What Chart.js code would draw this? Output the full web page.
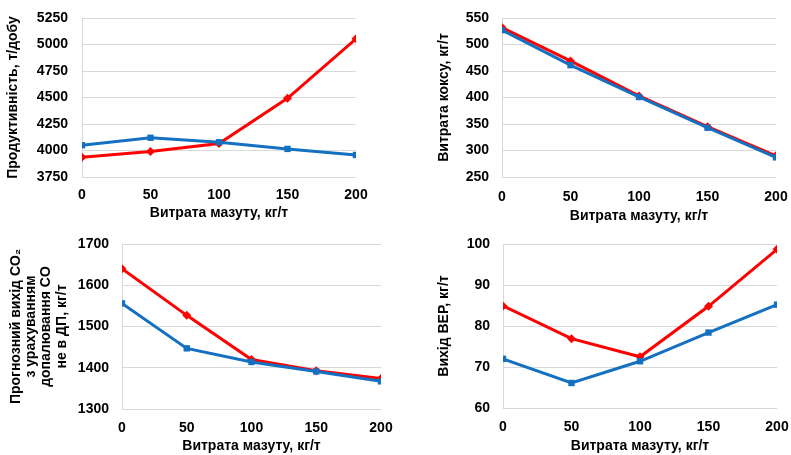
<!DOCTYPE html>
<html>
<head>
<meta charset="utf-8">
<script src="https://cdn.jsdelivr.net/npm/chart.js@4/dist/chart.umd.min.js"></script>
<style>
  html, body { margin: 0; padding: 0; background: #fff; }
  body { width: 791px; height: 455px; position: relative; overflow: hidden; }
  .box { position: absolute; }
</style>
</head>
<body>
<div class="box" style="left:0;top:0;width:395px;height:225px"><canvas id="chartProd"></canvas></div>
<div class="box" style="left:432px;top:0;width:359px;height:225px"><canvas id="chartCoke"></canvas></div>
<div class="box" style="left:0;top:225px;width:395px;height:230px"><canvas id="chartCO2"></canvas></div>
<div class="box" style="left:432px;top:225px;width:359px;height:230px"><canvas id="chartVER"></canvas></div>
<script>
// Fuel oil consumption, kg/t (shared x values)
const fuelOil = [0, 50, 100, 150, 200];

// Productivity, t/day
const prodBlue = [4050, 4120, 4078, 4015, 3958];
const prodRed = [3936, 3990, 4066, 4492, 5054];

// Coke consumption, kg/t
const cokeBlue = [527, 461, 401, 343, 287];
const cokeRed = [532, 469, 403, 345, 290];

// Predicted CO2 output, kg/t
const co2Blue = [1556, 1447, 1414, 1391, 1367];
const co2Red = [1640, 1527, 1420, 1393, 1374];

// Secondary energy resources output, kg/t
const verBlue = [72.0, 66.1, 71.4, 78.4, 85.2];
const verRed = [84.9, 76.9, 72.5, 84.8, 98.7];

const xTitle = 'Витрата мазуту, кг/т';
const BLUE = '#1470C0';
const RED = '#FF0000';
const GRID = '#D9D9D9';

Chart.defaults.font.family = '"Liberation Sans", Arial, sans-serif';
Chart.defaults.font.weight = 'bold';
Chart.defaults.color = '#000';

function toPoints(arr) {
    return fuelOil.map((x, i) => ({ x: x, y: arr[i] }));
}

// plain numbers, no thousands separator
function plain(value) {
    return String(value);
}

function makeChart(id, opts) {
    const ctx = document.getElementById(id);
    return new Chart(ctx, {
        type: 'line',
        data: {
            datasets: [
                {
                    data: toPoints(opts.blue),
                    borderColor: BLUE,
                    backgroundColor: BLUE,
                    borderWidth: 3,
                    pointStyle: 'rect',
                    pointRadius: 4.5,
                    pointBorderWidth: 0
                },
                {
                    data: toPoints(opts.red),
                    borderColor: RED,
                    backgroundColor: RED,
                    borderWidth: 3,
                    pointStyle: 'rectRot',
                    pointRadius: 4.5,
                    pointBorderWidth: 0
                }
            ]
        },
        options: {
            responsive: true,
            maintainAspectRatio: false,
            animation: false,
            layout: { padding: opts.padding },
            plugins: { legend: { display: false }, tooltip: { enabled: false } },
            scales: {
                x: {
                    type: 'linear',
                    min: 0,
                    max: 200,
                    grid: { display: false, drawTicks: false },
                    border: { display: false },
                    ticks: { stepSize: 50, padding: opts.xTickPad, font: { size: 14, weight: 'bold' }, callback: plain },
                    title: {
                        display: true,
                        text: xTitle,
                        font: { size: 14, weight: 'bold' },
                        padding: { top: 0, bottom: opts.xTitlePad }
                    },
                    afterFit: function(scale) {
                        scale.height = opts.xHeight;
                        scale.paddingLeft = 0;
                        scale.paddingRight = 0;
                    }
                },
                y: {
                    min: opts.yMin,
                    max: opts.yMax,
                    grid: { color: GRID, lineWidth: 1, drawTicks: false },
                    border: { display: true, color: GRID, width: 1 },
                    ticks: { stepSize: opts.yStep, padding: opts.yTickPad, font: { size: 14, weight: 'bold' }, callback: plain },
                    title: {
                        display: true,
                        text: opts.yTitle,
                        font: { size: 14, weight: 'bold', lineHeight: 1.1 },
                        padding: { top: opts.yTitlePad, bottom: 0 }
                    },
                    afterFit: function(scale) {
                        scale.width = opts.yWidth;
                        scale.paddingTop = 0;
                        scale.paddingBottom = 0;
                    }
                }
            }
        }
    });
}

makeChart('chartProd', {
    blue: prodBlue, red: prodRed,
    yMin: 3750, yMax: 5250, yStep: 250,
    yTitle: 'Продуктивність, т/добу',
    padding: { top: 18, right: 39, bottom: 0, left: 0 },
    yWidth: 82, xHeight: 48, xTickPad: 10, xTitlePad: 3, yTickPad: 14, yTitlePad: 5
});

makeChart('chartCoke', {
    blue: cokeBlue, red: cokeRed,
    yMin: 250, yMax: 550, yStep: 50,
    yTitle: 'Витрата коксу, кг/т',
    padding: { top: 18, right: 15, bottom: 0, left: 0 },
    yWidth: 70, xHeight: 48, xTickPad: 12, xTitlePad: 0, yTickPad: 13, yTitlePad: 4
});

makeChart('chartCO2', {
    blue: co2Blue, red: co2Red,
    yMin: 1300, yMax: 1700, yStep: 100,
    yTitle: ['Прогнозний вихід CO₂', 'з урахуванням', 'допалювання CO', 'не в ДП, кг/т'],
    padding: { top: 19, right: 14, bottom: 0, left: 0 },
    yWidth: 122, xHeight: 46, xTickPad: 11, xTitlePad: 0, yTickPad: 13, yTitlePad: 8
});

makeChart('chartVER', {
    blue: verBlue, red: verRed,
    yMin: 60, yMax: 100, yStep: 10,
    yTitle: 'Вихід ВЕР, кг/т',
    padding: { top: 19, right: 14, bottom: 0, left: 0 },
    yWidth: 71, xHeight: 47, xTickPad: 11, xTitlePad: 0, yTickPad: 13, yTitlePad: 4
});
</script>
</body>
</html>
